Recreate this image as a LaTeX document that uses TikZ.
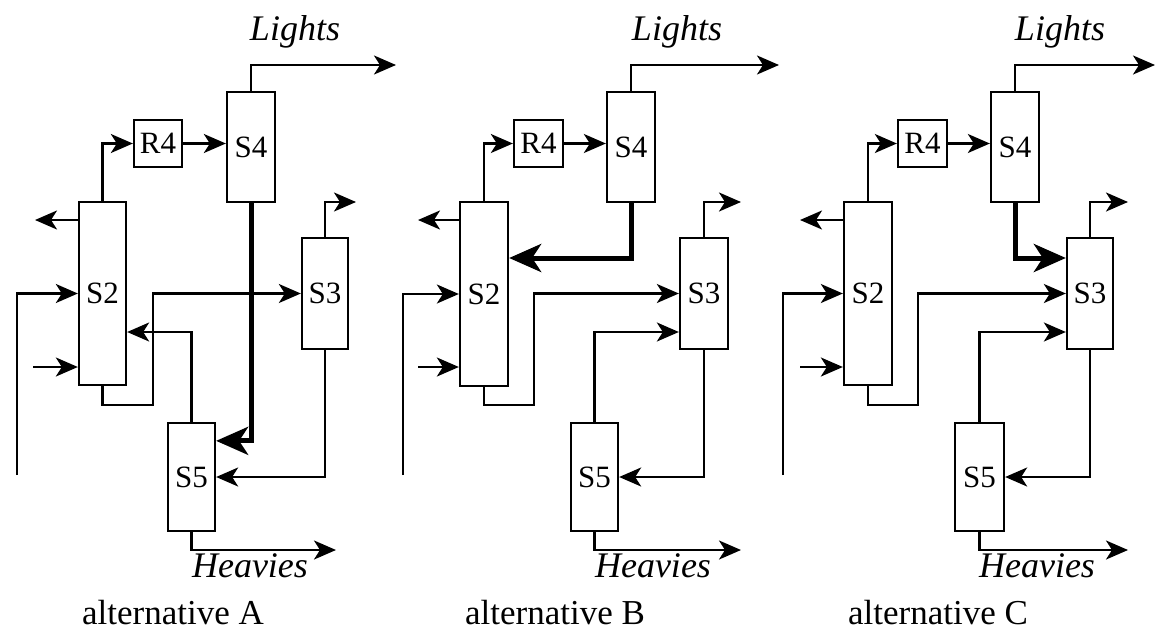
\documentclass[tikz,border=0pt]{standalone}
\usepackage{fontspec}
\setmainfont{Liberation Serif}
\usetikzlibrary{arrows.meta}
\begin{document}
\begin{tikzpicture}[x=1pt,y=-1pt,
  line width=2.3pt,
  unit/.style={draw,line width=2.3pt,inner sep=0pt,font=\fontsize{31}{31}\selectfont},
  arr/.style={-{Stealth[length=22pt,width=19pt,inset=6pt]}},
  tarr/.style={line width=5pt,-{Stealth[length=32pt,width=28pt,inset=9pt]}},
  stream/.style={font=\fontsize{36}{36}\selectfont\itshape,inner sep=0pt},
  caption/.style={font=\fontsize{35}{35}\selectfont,inner sep=0pt,anchor=base}]
\useasboundingbox (0,0) rectangle (1155,632);
% ================= alternative A =================
\node[unit,minimum width=48pt,minimum height=110pt] (aS4) at (251,147) {S4};
\node[unit,minimum width=48pt,minimum height=47pt] (aR4) at (158,143.5) {R4};
\node[unit,minimum width=47pt,minimum height=183pt] (aS2) at (102.5,293.5) {S2};
\node[unit,minimum width=46pt,minimum height=111pt] (aS3) at (325,293.5) {S3};
\node[unit,minimum width=47pt,minimum height=108pt] (aS5) at (191.5,477) {S5};
\node[stream] (aL) at (295,32) {Lights};
\node[stream] (aH) at (250,566) {Heavies};
\node[caption] (aC) at (173,624) {alternative A};
\coordinate (aLe) at (396,65);
\coordinate (aTop2) at (35,220);
\coordinate (aF1) at (17,475);
\coordinate (aF2) at (33,367);
\coordinate (aTop3) at (356,202);
\coordinate (aHe) at (336,550);
\draw[arr] (aS4.north) |- (aLe);
\draw[arr] (aS2.north) |- (aR4.west);
\draw[arr] (aR4.east) -- (aR4.east -| aS4.west);
\draw[arr] (aS2.west |- aTop2) -- (aTop2);
\draw[arr] (aF1) |- (aS2.west);
\draw[arr] (aF2) -- (aF2 -| aS2.west);
\draw[arr] (aS2.south) |- (153,405) |- (aS3.west);
\draw[arr] (aS3.north) |- (aTop3);
\draw[arr] (aS3.south) |- (aS5.east);
\draw[arr] (aS5.north) |- (aS2.east |- 0,332);
\draw[arr] (aS5.south) |- (aHe);
\draw[tarr] (aS4.south) |- ([yshift=-19pt]aS5.north east);
% ================= alternative B =================
\node[unit,minimum width=48pt,minimum height=110pt] (bS4) at (631,147) {S4};
\node[unit,minimum width=49pt,minimum height=47pt] (bR4) at (538.5,143.5) {R4};
\node[unit,minimum width=48pt,minimum height=184pt] (bS2) at (484,294) {S2};
\node[unit,minimum width=48pt,minimum height=111pt] (bS3) at (704,293.5) {S3};
\node[unit,minimum width=47pt,minimum height=108pt] (bS5) at (594.5,477) {S5};
\node[stream] (bL) at (677,32) {Lights};
\node[stream] (bH) at (653,566) {Heavies};
\node[caption] (bC) at (555,624) {alternative B};
\coordinate (bLe) at (779,65);
\coordinate (bTop2) at (418,220);
\coordinate (bF1) at (403,475);
\coordinate (bF2) at (418,367);
\coordinate (bTop3) at (741,202);
\coordinate (bHe) at (741,550);
\draw[arr] (bS4.north) |- (bLe);
\draw[arr] (bS2.north) |- (bR4.west);
\draw[arr] (bR4.east) -- (bR4.east -| bS4.west);
\draw[arr] (bS2.west |- bTop2) -- (bTop2);
\draw[arr] (bF1) |- (bS2.west);
\draw[arr] (bF2) -- (bF2 -| bS2.west);
\draw[arr] (bS2.south) |- (534,405) |- (bS3.west);
\draw[arr] (bS3.north) |- (bTop3);
\draw[arr] (bS3.south) |- (bS5.east);
\draw[arr] (bS5.north) |- (bS3.west |- 0,332);
\draw[arr] (bS5.south) |- (bHe);
\draw[tarr] (bS4.south) |- (bS2.east |- 0,258);
% ================= alternative C =================
\node[unit,minimum width=48pt,minimum height=110pt] (cS4) at (1015,147) {S4};
\node[unit,minimum width=49pt,minimum height=47pt] (cR4) at (922.5,143.5) {R4};
\node[unit,minimum width=48pt,minimum height=183pt] (cS2) at (868,293.5) {S2};
\node[unit,minimum width=46pt,minimum height=111pt] (cS3) at (1090,293.5) {S3};
\node[unit,minimum width=49pt,minimum height=108pt] (cS5) at (979.5,477) {S5};
\node[stream] (cL) at (1060,32) {Lights};
\node[stream] (cH) at (1037,566) {Heavies};
\node[caption] (cC) at (938,624) {alternative C};
\coordinate (cLe) at (1155,65);
\coordinate (cTop2) at (800,220);
\coordinate (cF1) at (783,475);
\coordinate (cF2) at (800,367);
\coordinate (cTop3) at (1128,202);
\coordinate (cHe) at (1128,550);
\draw[arr] (cS4.north) |- (cLe);
\draw[arr] (cS2.north) |- (cR4.west);
\draw[arr] (cR4.east) -- (cR4.east -| cS4.west);
\draw[arr] (cS2.west |- cTop2) -- (cTop2);
\draw[arr] (cF1) |- (cS2.west);
\draw[arr] (cF2) -- (cF2 -| cS2.west);
\draw[arr] (cS2.south) |- (918,405) |- (cS3.west);
\draw[arr] (cS3.north) |- (cTop3);
\draw[arr] (cS3.south) |- (cS5.east);
\draw[arr] (cS5.north) |- (cS3.west |- 0,332);
\draw[arr] (cS5.south) |- (cHe);
\draw[tarr] (cS4.south) |- (cS3.west |- 0,258);
\end{tikzpicture}
\end{document}
